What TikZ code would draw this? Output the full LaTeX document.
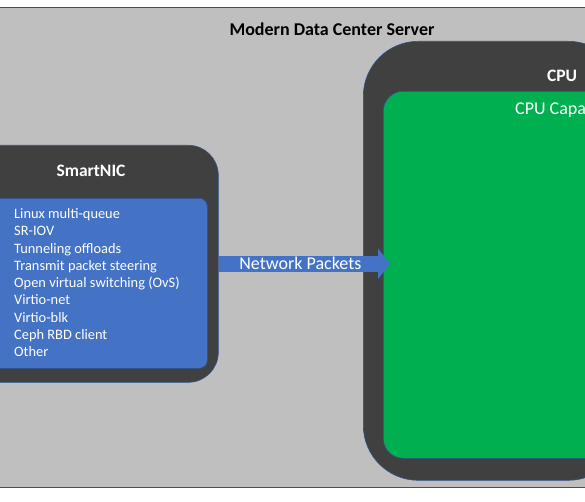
\documentclass[tikz,border=0pt]{standalone}
\usepackage{fontspec}
\setmainfont{Carlito}
\usetikzlibrary{positioning,arrows.meta}

\definecolor{srvGray}{HTML}{BFBFBF}
\definecolor{boxDark}{HTML}{404040}
\definecolor{nicBlue}{HTML}{4472C4}
\definecolor{edgeBlue}{HTML}{2F528F}
\definecolor{cpuGreen}{HTML}{00B050}

\begin{document}
\begin{tikzpicture}[
    x=1pt, y=-1pt,
    box/.style={%
      draw=edgeBlue,
      line width=0.6pt,
      rectangle,
      inner sep=0pt,
      anchor=north west,
    },
    title/.style={%
      font=\bfseries\fontsize{17.5}{21}\selectfont,
      text=white,
    },
  ]

    \useasboundingbox (0,0) rectangle (585,502);
    \clip (0,0) rectangle (585,502);

    \node [box, fill=srvGray, minimum width=600pt, minimum height=480pt] (S) at (-8,7) {};
    \node [font=\bfseries\fontsize{18}{21}\selectfont] (T) at (332,29) {Modern Data Center Server};

    \node [box, fill=boxDark, rounded corners=30pt, minimum width=258pt, minimum height=237pt] (N) at (-40,145) {};
    \node [title] (NT) at (91,171) {SmartNIC};
    \node [box, fill=nicBlue, rounded corners=8pt, minimum width=237pt, minimum height=170pt] (L) at (-30,198) {};
    \node [anchor=north west, align=left, inner sep=0pt, text=white,
           font=\fontsize{14.4}{17.25}\selectfont] (LT) at (14,208.5) {%
      Linux multi-queue\\
      SR-IOV\\
      Tunneling offloads\\
      Transmit packet steering\\
      Open virtual switching (OvS)\\
      Virtio-net\\
      Virtio-blk\\
      Ceph RBD client\\
      Other};

    \node [box, fill=boxDark, rounded corners=55pt, minimum width=260pt, minimum height=439pt] (C) at (363,41) {};
    \node [title] (CT) at (562,76) {CPU};
    \node [box, fill=cpuGreen, rounded corners=20pt, minimum width=240pt, minimum height=367pt] (G) at (383,91) {};
    \node [anchor=west, inner sep=0pt, text=white, font=\fontsize{18}{21}\selectfont] (GT) at (515,110) {CPU Capa};

    \draw [nicBlue, line width=16pt, -{Triangle[width=30pt,length=12pt]}]
      (N.east) -- ([xshift=7pt]G.west |- N.east)
      node [midway, xshift=-4pt, text=white, font=\fontsize{18}{21}\selectfont] {Network Packets};

\end{tikzpicture}
\end{document}
